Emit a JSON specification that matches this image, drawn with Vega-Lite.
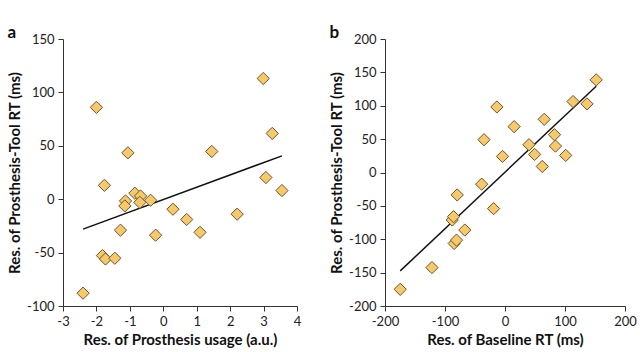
{
  "$schema": "https://vega.github.io/schema/vega-lite/v6.json",
  "padding": {"left": 7, "top": 24, "right": 2, "bottom": 2},
  "background": "white",
  "spacing": 28,
  "datasets": {
    "a": [
      {"x": -2.4, "y": -88}, {"x": -2.0, "y": 86}, {"x": -1.76, "y": 13}, {"x": -1.82, "y": -52.8},
      {"x": -1.73, "y": -56}, {"x": -1.45, "y": -55.3}, {"x": -1.28, "y": -29}, {"x": -1.06, "y": 43.4},
      {"x": -1.13, "y": -1.6}, {"x": -1.15, "y": -6.3}, {"x": -0.85, "y": 5.6}, {"x": -0.68, "y": 3},
      {"x": -0.70, "y": -3}, {"x": -0.38, "y": -1}, {"x": -0.23, "y": -33.7}, {"x": 0.29, "y": -9.4},
      {"x": 0.70, "y": -19}, {"x": 1.10, "y": -31}, {"x": 1.45, "y": 44.7}, {"x": 2.21, "y": -14},
      {"x": 2.99, "y": 113}, {"x": 3.26, "y": 61.6}, {"x": 3.07, "y": 20.3}, {"x": 3.55, "y": 8.1}
    ],
    "aline": [{"x": -2.4, "y": -28}, {"x": 3.55, "y": 40.6}],
    "b": [
      {"x": -174.6, "y": -175}, {"x": -121.7, "y": -142.4}, {"x": -88, "y": -71.2}, {"x": -85.8, "y": -66.2},
      {"x": -84.7, "y": -106.3}, {"x": -80.8, "y": -101.3}, {"x": -79.7, "y": -33.6}, {"x": -67, "y": -86.2},
      {"x": -38.9, "y": -17.5}, {"x": -35, "y": 49.1}, {"x": -19, "y": -54.1}, {"x": -13.5, "y": 98.2},
      {"x": -4.1, "y": 24.1}, {"x": 15.2, "y": 68.7}, {"x": 40, "y": 41.6}, {"x": 49.4, "y": 27.1},
      {"x": 62.1, "y": 9}, {"x": 65.4, "y": 79.7}, {"x": 82.5, "y": 56.6}, {"x": 84.1, "y": 39.6},
      {"x": 101.2, "y": 25.6}, {"x": 113.4, "y": 106.3}, {"x": 136.6, "y": 102.8}, {"x": 152, "y": 138.8}
    ],
    "bline": [{"x": -174.6, "y": -147.4}, {"x": 152, "y": 129.3}]
  },
  "config": {
    "view": {"stroke": null},
    "font": "Lato",
    "axis": {
      "grid": false,
      "domainColor": "#333333",
      "tickColor": "#333333",
      "tickSize": 5,
      "labelFont": "Lato",
      "labelFontSize": 13,
      "labelColor": "#222222",
      "labelOverlap": false,
      "labelBound": false,
      "labelFlush": false,
      "labelExpr": "replace(datum.label, '\u2212', '-')",
      "titleFont": "Lato",
      "titleFontSize": 15,
      "titleFontWeight": "bold",
      "titleColor": "#111111",
      "labelPadding": 4
    },
    "title": {"anchor": "start", "frame": "bounds", "fontSize": 17, "fontWeight": "bold", "font": "Lato", "color": "#111111", "offset": -9}
  },
  "hconcat": [
    {
      "width": 234,
      "height": 267,
      "title": "a",
      "encoding": {
        "x": {"field": "x", "type": "quantitative", "scale": {"domain": [-3, 4], "nice": false}, "axis": {"values": [-3, -2, -1, 0, 1, 2, 3, 4], "tickCount": 8, "labelOverlap": false, "title": "Res. of Prosthesis usage (a.u.)"}},
        "y": {"field": "y", "type": "quantitative", "scale": {"domain": [-100, 150], "nice": false}, "axis": {"values": [-100, -50, 0, 50, 100, 150], "tickCount": 6, "labelOverlap": false, "title": "Res. of Prosthesis-Tool RT (ms)"}}
      },
      "layer": [
        {
          "data": {"name": "aline"},
          "mark": {"type": "line", "color": "#111111", "strokeWidth": 1.5}
        },
        {
          "data": {"name": "a"},
          "mark": {"type": "point", "shape": "diamond", "filled": true, "size": 150, "fill": "#F8C96A", "stroke": "#6b5530", "strokeWidth": 1, "opacity": 1}
        }
      ]
    },
    {
      "width": 240,
      "height": 267,
      "title": "b",
      "encoding": {
        "x": {"field": "x", "type": "quantitative", "scale": {"domain": [-200, 200], "nice": false}, "axis": {"values": [-200, -100, 0, 100, 200], "tickCount": 5, "labelOverlap": false, "title": "Res. of Baseline RT (ms)"}},
        "y": {"field": "y", "type": "quantitative", "scale": {"domain": [-200, 200], "nice": false}, "axis": {"values": [-200, -150, -100, -50, 0, 50, 100, 150, 200], "tickCount": 9, "labelOverlap": false, "title": "Res. of Prosthesis-Tool RT (ms)"}}
      },
      "layer": [
        {
          "data": {"name": "bline"},
          "mark": {"type": "line", "color": "#111111", "strokeWidth": 1.5}
        },
        {
          "data": {"name": "b"},
          "mark": {"type": "point", "shape": "diamond", "filled": true, "size": 150, "fill": "#F8C96A", "stroke": "#6b5530", "strokeWidth": 1, "opacity": 1}
        }
      ]
    }
  ]
}
